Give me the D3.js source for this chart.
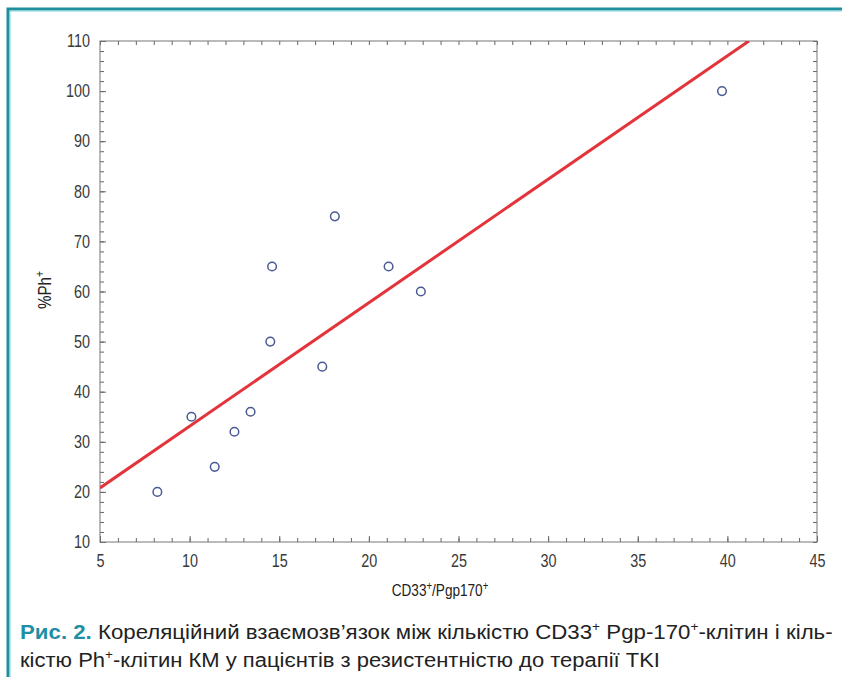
<!DOCTYPE html>
<meta charset="utf-8">
<head>
  <title>CD33/Pgp170 vs Ph</title>
</head>
<style>
  body { margin: 0; background: #fff; }
  text { font-family: "Liberation Sans", Arial, sans-serif; fill: #222; }
  .tick text { font-size: 18px; fill: #3a3a3a; }
  .caption { font-size: 21px; }
</style>
<body>
<script src="https://d3js.org/d3.v7.min.js"></script>
<div id="chart"></div>
<script>

var xVals = [8.2, 10.1, 11.4, 12.5, 13.4, 14.5, 14.6, 17.4, 18.1, 21.1, 22.9, 39.7];
var yVals = [20, 35, 25, 32, 36, 50, 65, 45, 75, 65, 60, 100];

// fitted line: y = a + b*x
var fitA = 8.48;
var fitB = 2.464;

var xTicks = [5, 10, 15, 20, 25, 30, 35, 40, 45];
var yTicks = [10, 20, 30, 40, 50, 60, 70, 80, 90, 100, 110];

var W = 842, H = 677;
var mLeft = 100, mRight = 817, mTop = 41, mBottom = 542;
var squeeze = 0.8;

var svg = d3.select("#chart").append("svg")
  .attr("width", W)
  .attr("height", H);

// teal frame
svg.append("path")
  .attr("d", "M8,677 L8,9 L842,9")
  .style("fill", "none")
  .style("stroke", "#1f8e9c")
  .style("stroke-width", 3);
svg.append("path")
  .attr("d", "M10,677 L10,11 L842,11")
  .style("fill", "none")
  .style("stroke", "#7fd3dc")
  .style("stroke-width", 1);

var x = d3.scaleLinear().domain([5, 45]).range([mLeft, mRight]);
var y = d3.scaleLinear().domain([10, 110]).range([mBottom, mTop]);

var minorX = d3.range(5, 46, 1);
var minorY = d3.range(10, 111, 2);

function styleAxis(g) {
  g.selectAll(".domain").remove();
  g.selectAll("line").style("stroke", "#666").style("stroke-width", 1);
}

// minor ticks (inward), all four sides
svg.append("g").attr("transform", "translate(0," + mBottom + ")")
  .call(d3.axisBottom(x).tickValues(minorX).tickSize(-4).tickFormat(""))
  .call(styleAxis);
svg.append("g").attr("transform", "translate(0," + mTop + ")")
  .call(d3.axisTop(x).tickValues(minorX).tickSize(-4).tickFormat(""))
  .call(styleAxis);
svg.append("g").attr("transform", "translate(" + mLeft + ",0)")
  .call(d3.axisLeft(y).tickValues(minorY).tickSize(-4).tickFormat(""))
  .call(styleAxis);
svg.append("g").attr("transform", "translate(" + mRight + ",0)")
  .call(d3.axisRight(y).tickValues(minorY).tickSize(-4).tickFormat(""))
  .call(styleAxis);

// labelled axes, with narrowed glyphs
var xAxis = svg.append("g").attr("transform", "translate(0," + mBottom + ")")
  .call(d3.axisBottom(x).tickValues(xTicks).tickSize(-6).tickPadding(9))
  .call(styleAxis);
xAxis.selectAll("text").attr("dy", "0.9em")
  .attr("transform", "scale(" + squeeze + ",1)");

var yAxis = svg.append("g").attr("transform", "translate(" + mLeft + ",0)")
  .call(d3.axisLeft(y).tickValues(yTicks).tickSize(-6).tickPadding(10))
  .call(styleAxis);
yAxis.selectAll("text")
  .attr("x", -10 / squeeze)
  .attr("transform", "scale(" + squeeze + ",1)");

// frame of the plot
svg.append("rect")
  .attr("x", mLeft).attr("y", mTop)
  .attr("width", mRight - mLeft).attr("height", mBottom - mTop)
  .style("fill", "none")
  .style("stroke", "#777")
  .style("stroke-width", 1);

// regression line, clipped to plot
svg.append("clipPath").attr("id", "clip")
  .append("rect")
  .attr("x", mLeft).attr("y", mTop)
  .attr("width", mRight - mLeft).attr("height", mBottom - mTop);

var xEnd = (110 - fitA) / fitB;
svg.append("line")
  .attr("clip-path", "url(#clip)")
  .attr("x1", x(5)).attr("y1", y(fitA + fitB * 5))
  .attr("x2", x(xEnd)).attr("y2", y(110))
  .style("stroke", "#e3343b")
  .style("stroke-width", 3);

// points
svg.selectAll(null)
  .data(xVals)
  .enter()
  .append("circle")
  .attr("cx", function(d) { return x(d); })
  .attr("cy", function(d, i) { return y(yVals[i]); })
  .attr("r", 4.3)
  .style("fill", "white")
  .style("stroke", "#4a5a92")
  .style("stroke-width", 1.5);

// axis titles
var xt = svg.append("text")
  .attr("transform", "translate(440,596) scale(" + squeeze + ",1)")
  .attr("text-anchor", "middle")
  .style("font-size", "17px");
xt.append("tspan").text("CD33");
xt.append("tspan").attr("dy", -6).style("font-size", "12px").text("+");
xt.append("tspan").attr("dy", 6).text("/Pgp170");
xt.append("tspan").attr("dy", -6).style("font-size", "12px").text("+");

var yt = svg.append("text")
  .attr("transform", "translate(51,290) rotate(-90) scale(" + squeeze + ",1)")
  .attr("text-anchor", "middle")
  .style("font-size", "19px");
yt.append("tspan").text("%Ph");
yt.append("tspan").attr("dy", -7).style("font-size", "13px").text("+");

// caption
function captionLine(yPos, parts, width) {
  var t = svg.append("text").attr("class", "caption").attr("x", 0).attr("y", yPos);
  parts.forEach(function(p) {
    var s = t.append("tspan").text(p.t);
    if (p.bold) s.style("font-weight", "bold").style("fill", "#1f8fa6");
    if (p.sup) s.attr("dy", -8).style("font-size", "13px");
    if (p.down) s.attr("dy", 8);
  });
  var len = t.node().getComputedTextLength();
  t.attr("transform", "translate(20,0) scale(" + (width / len) + ",1)");
}

captionLine(639, [
  {t: "Рис. 2. ", bold: true},
  {t: "Кореляційний взаємозв’язок між кількістю CD33"},
  {t: "+", sup: true},
  {t: " Pgp-170", down: true},
  {t: "+", sup: true},
  {t: "-клітин і кіль-", down: true}
], 813);

captionLine(667, [
  {t: "кістю Ph"},
  {t: "+", sup: true},
  {t: "-клітин КМ у пацієнтів з резистентністю до терапії TKI", down: true}
], 640);

</script>
</body>
</html>
